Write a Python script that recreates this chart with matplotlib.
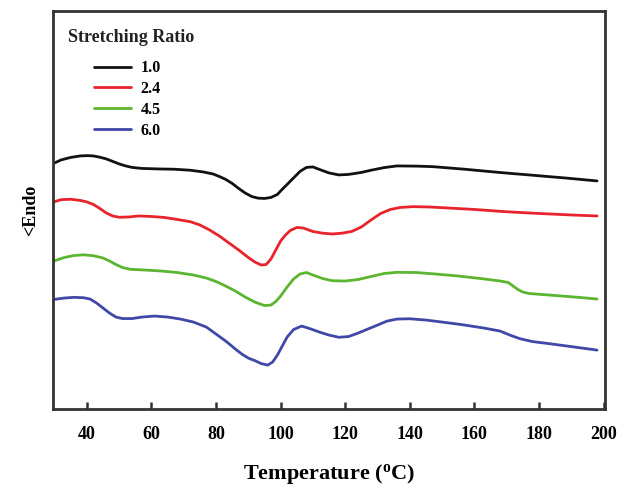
import matplotlib
matplotlib.use('Agg')
import matplotlib.pyplot as plt

plt.rcParams['font.family'] = 'Liberation Serif'
plt.rcParams['font.weight'] = 'bold'
plt.rcParams['axes.labelweight'] = 'bold'
plt.rcParams['mathtext.fontset'] = 'custom'
plt.rcParams['mathtext.rm'] = 'Liberation Serif:bold'
plt.rcParams['mathtext.bf'] = 'Liberation Serif:bold'

# DSC curves, heat flow in arbitrary units
t_10 = [30, 32, 35, 38, 40, 42, 44, 46, 48, 50, 52, 54, 57, 62, 67, 72, 76, 79, 81, 83, 85,
        87, 89, 91, 93, 95, 97, 99, 100, 102, 104, 106, 108, 110, 112, 115, 118, 121, 125,
        128, 132, 136, 142, 147, 152, 157, 162, 167, 172, 177, 182, 188, 193, 198]
hf_10 = [246, 249, 251.5, 253, 253.3, 253, 251.7, 250, 247.5, 245, 243, 241.5, 240.5, 240,
         239.7, 238.7, 237, 235, 232.5, 229.5, 225.5, 220.5, 216, 212.5, 210.8, 210.5, 211.5,
         214.5, 218, 224.5, 231, 237.5, 241.5, 242, 239.5, 236, 234, 234.5, 236.5, 238.7,
         241.3, 243, 242.8, 242.3, 241, 239.7, 238.2, 236.7, 235.3, 234, 232.6, 231, 229.5,
         228]

t_24 = [30, 32, 35, 38, 40, 42, 44, 46, 48, 50, 53, 56, 60, 64, 68, 72, 75, 78, 81, 84, 87,
        90, 92, 94, 95.5, 97, 98.5, 100, 101.5, 103, 105, 107, 110, 113, 116, 119, 122, 125,
        128, 131, 134, 137, 141, 146, 150, 160, 170, 180, 190, 198]
hf_24 = [207.3, 209.3, 209.7, 208.5, 207, 204.5, 200.5, 196, 193, 191.7, 192, 193, 192.5,
         191.5, 189.5, 187.3, 184, 179, 173, 166, 159, 151.5, 147, 144, 144.5, 150, 159, 168,
         174, 178.5, 181.5, 181, 177.5, 175.8, 175, 175.8, 177.5, 182, 189, 195.5, 199.5,
         201.5, 202.3, 202, 201.3, 199.5, 197.2, 195.5, 194, 193]

t_45 = [30, 33, 36, 39, 42, 45, 47, 49, 51, 53.5, 58, 63, 68, 73, 77, 80, 83, 86, 89, 92,
        95, 97, 98.5, 100, 102, 104, 106, 108, 110, 113, 116, 120, 124, 128, 132, 136, 142,
        148, 155, 162, 168, 170.5, 172, 173.5, 175, 177, 182, 188, 193, 198]
hf_45 = [148.3, 151.5, 153.5, 154.2, 153.3, 151, 148, 144.5, 141.5, 139.7, 139, 138, 136.5,
         134, 131, 127.5, 123, 118, 112, 107, 103.5, 104, 107.5, 113, 122, 130, 135, 136.5,
         134, 130.5, 128.3, 128, 129.5, 132.5, 135.5, 136.7, 136.5, 135, 133, 130.5, 128,
         126.5, 123, 119.5, 117, 115.5, 114.3, 112.8, 111.5, 110]

t_60 = [30, 33, 36, 39, 41, 43, 45, 47, 49, 51, 54, 57, 61, 65, 69, 73, 77, 80, 83, 86, 88,
        90, 92, 94, 96, 97.5, 99, 100.5, 102, 104, 106.5, 109, 112, 115, 118, 121, 124, 127,
        130, 133, 136, 140, 145, 150, 156, 163, 168, 171, 174, 178, 183, 190, 198]
hf_60 = [109.7, 111, 111.7, 111.3, 110, 106, 101, 96, 92, 90.5, 90.5, 92, 93, 92, 90, 87, 82,
         75, 68, 60, 55, 51, 48.5, 45.5, 44, 47, 54, 63, 72, 79.5, 83, 80.5, 77, 74, 71.8,
         72.5, 76, 80, 84, 88, 90, 90.3, 89, 87, 84.5, 81, 78, 74, 70.5, 67.5, 65.5, 62.5, 59]

ratios = ['1.0', '2.4', '4.5', '6.0']
colors = ['#111111', '#e8232b', '#5cb531', '#3f48a6']
xticks = [40, 60, 80, 100, 120, 140, 160, 180, 200]

fig = plt.figure(figsize=(6.31, 4.9), dpi=100)
ax = fig.add_axes([0.084, 0.165, 0.875, 0.813])

series = [(t_10, hf_10), (t_24, hf_24), (t_45, hf_45), (t_60, hf_60)]
for (t, hf), lab, c in zip(series, ratios, colors):
    ax.plot(t, hf, color=c, lw=2.0, label=lab, solid_joinstyle='round',
            solid_capstyle='round')

ax.set_xlim(29.5, 200.5)
ax.set_ylim(0, 398)
ax.set_xticks(xticks)
ax.set_yticks([])
ax.tick_params(axis='x', direction='in', length=5, width=1.8, labelsize=13, pad=12,
               color='#333333')
for s in ax.spines.values():
    s.set_linewidth(2)
    s.set_color('#333333')

ax.set_xlabel(r'Temperature ($\mathregular{^{o}}$C)', fontsize=16, labelpad=14)
ax.set_ylabel('<Endo', fontsize=13, labelpad=10)

ax.text(0.028, 0.955, 'Stretching Ratio', transform=ax.transAxes, fontsize=13,
        va='top', ha='left', color='#222222')
ax.legend(loc='upper left', bbox_to_anchor=(0.063, 0.892), frameon=False, fontsize=11.5,
          handlelength=2.3, handletextpad=0.6, labelspacing=0.3, borderaxespad=0)

plt.savefig('out.png', dpi=100)
